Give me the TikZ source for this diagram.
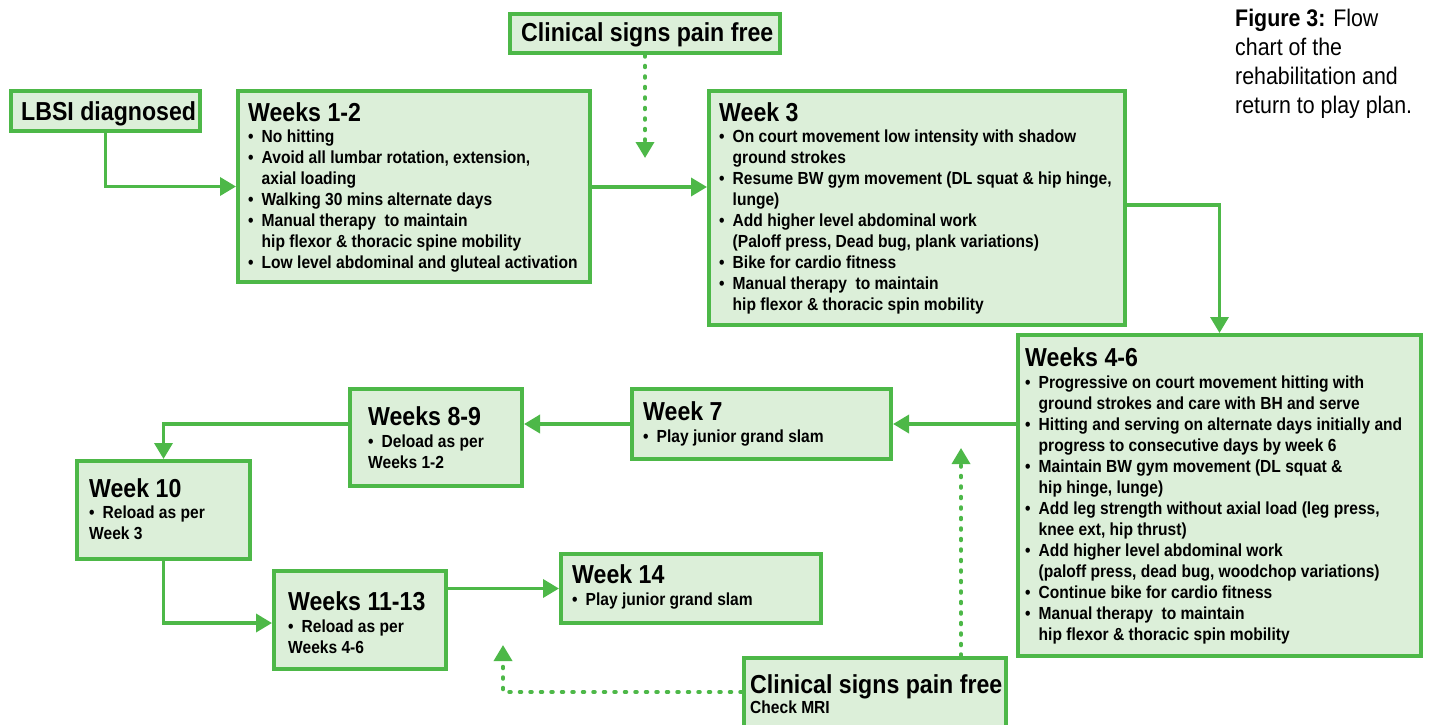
\documentclass[tikz,border=0pt]{standalone}
\usepackage{fontspec}
\setmainfont{Liberation Sans}[FakeStretch=0.89]
\usetikzlibrary{arrows.meta}
\definecolor{gr}{RGB}{77,184,72}
\definecolor{lg}{RGB}{220,239,217}
\newcommand{\bl}{\makebox[13.5pt][l]{•}}
\newcommand{\ind}{\makebox[13.5pt]{}}
\tikzset{
  box/.style={draw=gr, fill=lg, line width=4pt, inner sep=0pt},
  ttl/.style={anchor=base west, inner sep=0pt, font=\fontsize{26}{28}\selectfont\bfseries},
  bdy/.style={anchor=base west, inner sep=0pt, align=left, font=\fontsize{17.5}{21}\selectfont\bfseries},
  flow/.style={draw=gr, line width=3.5pt, -{Triangle[length=16pt,width=18pt]}},
  dotflow/.style={draw=gr, line width=3.5pt, dash pattern=on 2pt off 8.5pt, line cap=round, -{Triangle[length=16pt,width=18pt]}},
}
\begin{document}
\begin{tikzpicture}[x=1pt,y=-1pt]
\useasboundingbox (0,0) rectangle (1432,725);
% boxes
\node[box, minimum width=270pt, minimum height=39pt] (cs1) at (645,33.5) {};
\node[box, minimum width=189pt, minimum height=40pt] (lbsi) at (105.5,111) {};
\node[box, minimum width=352pt, minimum height=191pt] (w12) at (414,186.5) {};
\node[box, minimum width=416pt, minimum height=234pt] (w3) at (917,208) {};
\node[box, minimum width=403pt, minimum height=321pt] (w46) at (1219.5,495.5) {};
\node[box, minimum width=259pt, minimum height=70pt] (w7) at (761.5,424) {};
\node[box, minimum width=172pt, minimum height=97pt] (w89) at (436,437.5) {};
\node[box, minimum width=173pt, minimum height=98pt] (w10) at (163.5,510) {};
\node[box, minimum width=172pt, minimum height=98pt] (w1113) at (360,620) {};
\node[box, minimum width=260pt, minimum height=69pt] (w14) at (691,588.5) {};
\node[box, minimum width=262pt, minimum height=84pt] (cs2) at (875,700) {};
% texts (multi-line nodes are placed by the baseline of their last line)
\node[ttl] (cs1t) at (521,42) {Clinical signs pain free};
\node[ttl] (lbsit) at (21,120) {LBSI diagnosed};
\node[ttl] (w12h) at (248,121) {Weeks 1-2};
\node[bdy] (w12b) at (248,268) {\bl No hitting\\
\bl Avoid all lumbar rotation, extension,\\
\ind axial loading\\
\bl Walking 30 mins alternate days\\
\bl Manual therapy \ to maintain\\
\ind hip flexor \& thoracic spine mobility\\
\bl Low level abdominal and gluteal activation};
\node[ttl] (w3h) at (719,121) {Week 3};
\node[bdy] (w3b) at (719,310) {\bl On court movement low intensity with shadow\\
\ind ground strokes\\
\bl Resume BW gym movement (DL squat \& hip hinge,\\
\ind lunge)\\
\bl Add higher level abdominal work\\
\ind (Paloff press, Dead bug, plank variations)\\
\bl Bike for cardio fitness\\
\bl Manual therapy \ to maintain\\
\ind hip flexor \& thoracic spin mobility};
\node[ttl] (w46h) at (1025,366) {Weeks 4-6};
\node[bdy] (w46b) at (1025,640) {\bl Progressive on court movement hitting with\\
\ind ground strokes and care with BH and serve\\
\bl Hitting and serving on alternate days initially and\\
\ind progress to consecutive days by week 6\\
\bl Maintain BW gym movement (DL squat \&\\
\ind hip hinge, lunge)\\
\bl Add leg strength without axial load (leg press,\\
\ind knee ext, hip thrust)\\
\bl Add higher level abdominal work\\
\ind (paloff press, dead bug, woodchop variations)\\
\bl Continue bike for cardio fitness\\
\bl Manual therapy \ to maintain\\
\ind hip flexor \& thoracic spin mobility};
\node[ttl] (w7h) at (643,420) {Week 7};
\node[bdy] (w7b) at (643,442) {\bl Play junior grand slam};
\node[ttl] (w89h) at (368,425) {Weeks 8-9};
\node[bdy] (w89b) at (368,468) {\bl Deload as per\\Weeks 1-2};
\node[ttl] (w10h) at (89,497) {Week 10};
\node[bdy] (w10b) at (89,539) {\bl Reload as per\\Week 3};
\node[ttl] (w1113h) at (288,610) {Weeks 11-13};
\node[bdy] (w1113b) at (288,653) {\bl Reload as per\\Weeks 4-6};
\node[ttl] (w14h) at (572,583) {Week 14};
\node[bdy] (w14b) at (572,605) {\bl Play junior grand slam};
\node[ttl] (cs2t) at (750,693) {Clinical signs pain free};
\node[bdy] (cs2b) at (750,713) {Check MRI};
\node[anchor=base west, inner sep=0pt, align=left, font=\fontsize{24}{28.7}\selectfont] (cap) at (1235,113) {\textbf{Figure 3:} Flow\\chart of the\\rehabilitation and\\return to play plan.};
% coordinates
\coordinate (c1end) at (645,158);
\coordinate (c2up) at (961,448);
\coordinate (c2left) at (503,645);
% connectors
\draw[flow] (lbsi.south) |- (w12.west);
\draw[flow] ([yshift=-0.5pt]w12.east) -- ([yshift=-0.5pt]w12.east -| w3.west);
\draw[dotflow] (cs1.south) -- (c1end);
\draw[flow] ([yshift=3pt]w3.east) -| (w46.north);
\draw[flow] (w46.west |- w7.east) -- (w7.east);
\draw[flow] (w7.west) -- (w7.west -| w89.east);
\draw[flow] (w7.west -| w89.west) -| (w10.north);
\draw[flow] (w10.south) |- ([yshift=-3pt]w1113.west);
\draw[flow] (w1113.east |- w14.west) -- (w14.west);
\draw[dotflow] (cs2.north -| c2up) -- (c2up);
\draw[dotflow] (cs2.west |- 0,692) -| (c2left);
\end{tikzpicture}
\end{document}
